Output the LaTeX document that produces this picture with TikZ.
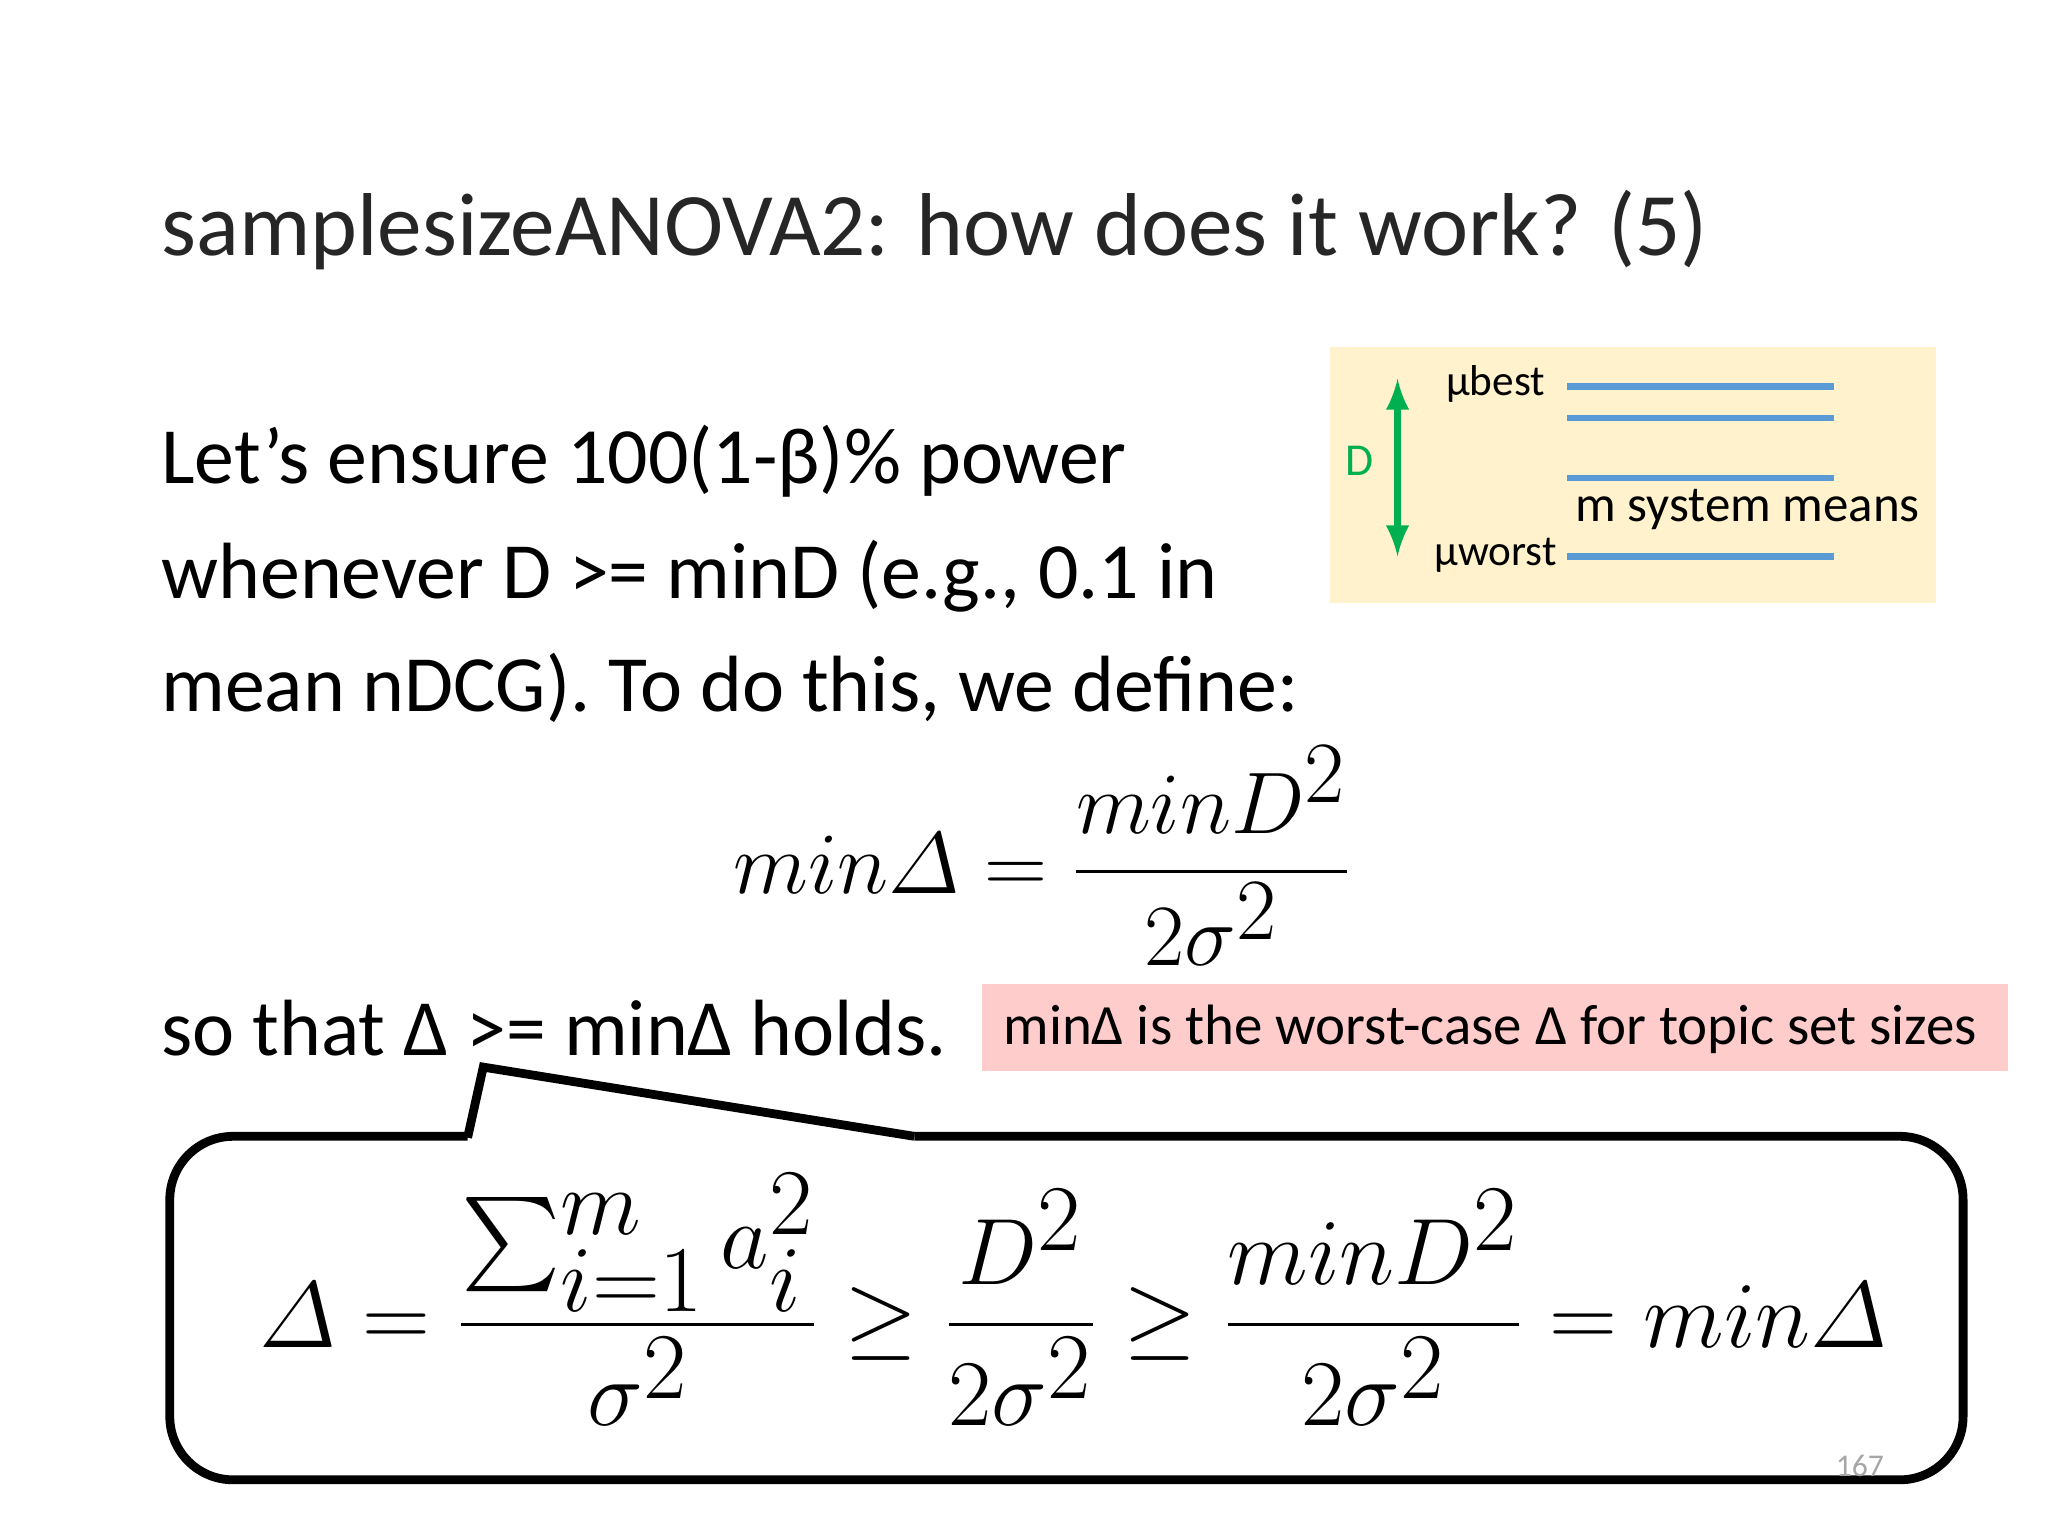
\documentclass[tikz,border=0pt]{standalone}
\usepackage{amsmath}
\usepackage{fontspec}
\setmainfont{Carlito}
\definecolor{grn}{RGB}{0,176,80}
\definecolor{blu}{RGB}{91,155,213}
\definecolor{yel}{RGB}{255,242,204}
\definecolor{pnk}{RGB}{255,204,204}
\begin{document}
\begin{tikzpicture}[x=0.013061cm,y=-0.013061cm,
  body/.style={anchor=base west,inner sep=0,font=\fontsize{22.7}{27}\selectfont},
  bl/.style={draw=blu,line width=1.8pt},
  mth/.style={inner sep=0,font=\fontsize{34}{38}\selectfont}]
\useasboundingbox (0,0) rectangle (1568,1176);
\node[anchor=base west,inner sep=0,font=\fontsize{25.4}{30}\selectfont,text=black!85] (title) at (123,196) {samplesizeANOVA2: how does it work? (5)};
\node[body] (l1) at (123,370) {Let’s ensure 100(1-β)\% power};
\node[body] (l2) at (123,458) {whenever D >= minD (e.g., 0.1 in};
\node[body] (l3) at (123,545) {mean nDCG). To do this, we define:};
\node[body] (l4) at (123,808) {so that Δ >= minΔ holds.};
% yellow box
\fill[yel] (1018,266) rectangle (1482,462);
\coordinate (at) at (1070,290); \coordinate (ab) at (1070,426);
\draw[grn,line width=2pt,<->,>=latex] (at) -- (ab);
\node[text=grn,font=\fontsize{13}{15}\selectfont] (d) at (1041,353) {D};
\node[font=\fontsize{12.3}{14}\selectfont] (mb) at (1145,294) {µbest};
\node[font=\fontsize{12.3}{14}\selectfont] (mw) at (1145,425) {µworst};
\node[font=\fontsize{14.5}{17}\selectfont] (ms) at (1338,390) {m system means};
\draw[bl] (1200,296) -- (1404,296);
\draw[bl] (1200,320) -- (1404,320);
\draw[bl] (1200,366) -- (1404,366);
\draw[bl] (1200,426) -- (1404,426);
% formula
\node[mth] (f1) at (798,655) {$min\varDelta = \dfrac{minD^2}{2\sigma^2}$};
% pink box
\fill[pnk] (752,753) rectangle (1537,820);
\node[font=\fontsize{16.2}{19}\selectfont] (pk) at (1141,788) {minΔ is the worst-case Δ for topic set sizes};
% callout
\draw[line width=2.5pt,rounded corners=18pt] (358,870) -- (130,870) -- (130,1133) -- (1503,1133) -- (1503,870) -- (700,870);
\draw[line width=2.5pt] (358,871) -- (370,817) -- (700,870);
\node[mth,scale=1.077] (f2) at (822,995) {$\varDelta = \dfrac{\sum_{i=1}^m a_i^2}{\sigma^2} \geq \dfrac{D^2}{2\sigma^2} \geq \dfrac{minD^2}{2\sigma^2} = min\varDelta$};
\node[text=gray!70,font=\fontsize{9}{10}\selectfont] (pg) at (1424,1122) {167};
\end{tikzpicture}
\end{document}
